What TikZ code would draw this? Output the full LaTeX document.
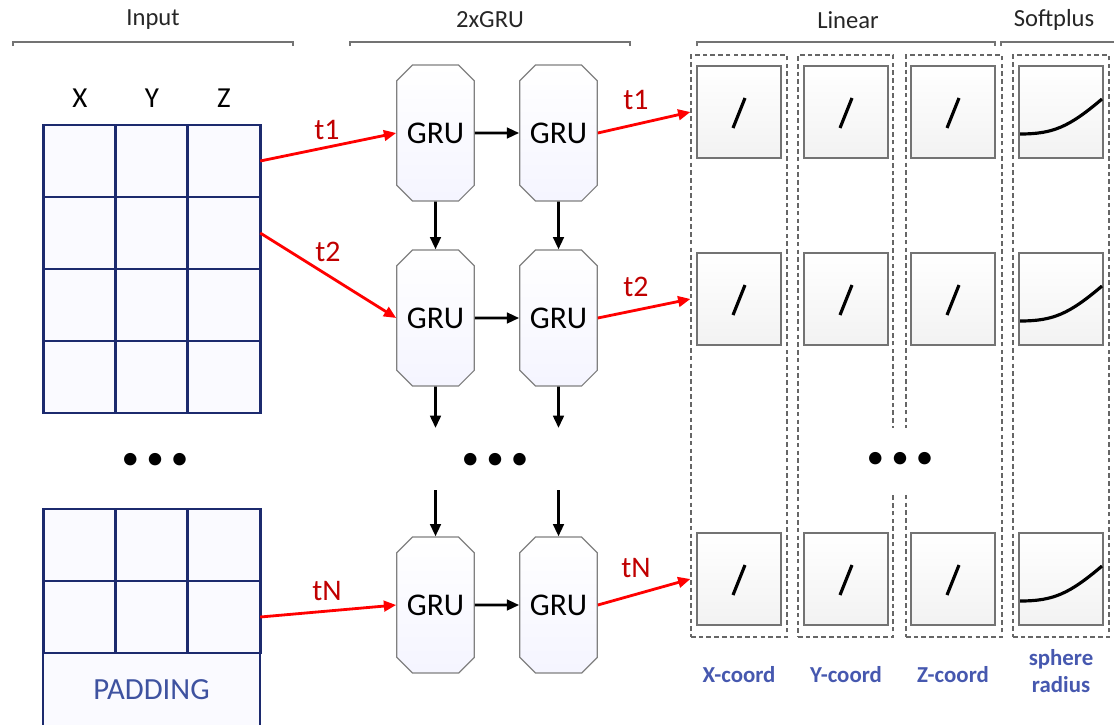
\documentclass[tikz,border=0pt]{standalone}
\usepackage{fontspec}
\setmainfont{Carlito}
\usetikzlibrary{arrows.meta,shapes.misc}
\definecolor{gridblue}{RGB}{28,42,110}
\definecolor{padblue}{RGB}{62,82,160}
\definecolor{labblue}{RGB}{70,88,175}
\definecolor{tred}{RGB}{192,0,0}
\definecolor{arrred}{RGB}{255,0,0}
\def\dotrow{\textbullet\hspace{4pt}\textbullet\hspace{4pt}\textbullet}
\tikzset{
  cell/.style={draw=gridblue,line width=1.6pt,fill=blue!2,minimum width=1.45cm,minimum height=1.44cm,inner sep=0pt,outer sep=0pt},
  gru/.style={chamfered rectangle,chamfered rectangle xsep=0.2cm,draw=black!50,line width=0.7pt,
    top color=white,bottom color=blue!4,minimum width=1.54cm,minimum height=2.72cm,inner sep=0pt,
    font=\fontsize{18}{20}\selectfont},
  column/.style={draw=black!60,dash pattern=on 2.6pt off 1.8pt,line width=0.7pt,minimum height=11.64cm,inner sep=0pt},
  unit/.style={draw=black!55,line width=0.8pt,top color=white,bottom color=black!5,minimum width=1.68cm,minimum height=1.84cm,inner sep=0pt},
  redarrow/.style={draw=arrred,line width=1.6pt,-{Triangle[length=7pt,width=6pt]}},
  blkarrow/.style={line width=1.6pt,-{Triangle[length=7pt,width=6pt]}},
  header/.style={font=\fontsize{14}{16}\selectfont,text=black!85},
  tlabel/.style={text=tred,font=\fontsize{17}{19}\selectfont},
  outlabel/.style={text=labblue,font=\bfseries\fontsize{13}{15}\selectfont,align=center},
  dotsnode/.style={font=\fontsize{20}{22}\selectfont,inner sep=0pt}
}

\begin{document}
\begin{tikzpicture}[x=0.02cm,y=-0.02cm]
    \useasboundingbox (0,0) rectangle (1114,724);

    % headers
    \node[header] (hin) at (153,20) {Input};
    \node[header] (hgru) at (490,20) {2xGRU};
    \node[header] (hlin) at (848,20) {Linear};
    \node[header] (hsp) at (1054,20) {Softplus};
    \draw[black!55,line width=0.6pt] (13,46) -- (13,42) -- (293,42) -- (293,46);
    \draw[black!55,line width=0.6pt] (350,46) -- (350,42) -- (630,42) -- (630,46);
    \draw[black!55,line width=0.6pt] (697,46) -- (697,42) -- (995,42) -- (995,46);
    \draw[black!55,line width=0.6pt] (1001,46) -- (1001,42) -- (1114,42);

    % input grid
    \node[font=\fontsize{16.5}{18}\selectfont] (lx) at (80,98) {X};
    \node[font=\fontsize{16.5}{18}\selectfont] (ly) at (152,98) {Y};
    \node[font=\fontsize{16.5}{18}\selectfont] (lz) at (224,98) {Z};
    \foreach \r/\y in {1/161,2/233,3/305,4/377,5/545,6/617}
      \foreach \c/\x in {1/79.5,2/152,3/224}
        \node[cell] (c\r\c) at (\x,\y) {};
    \node[cell,minimum width=4.34cm,minimum height=1.46cm,text=padblue,font=\fontsize{17.5}{19}\selectfont]
      (pad) at (151.5,689.5) {PADDING};
    \node[dotsnode] (idots) at (155,461) {\dotrow};

    % GRU layers
    \node[gru] (g11) at (435.5,133) {GRU};
    \node[gru] (g12) at (558.5,133) {GRU};
    \node[gru] (g21) at (435.5,318) {GRU};
    \node[gru] (g22) at (558.5,318) {GRU};
    \node[gru] (g31) at (435.5,605) {GRU};
    \node[gru] (g32) at (558.5,605) {GRU};
    \node[dotsnode] (gdots) at (495,461) {\dotrow};
    \coordinate (e1) at (435.5,428);
    \coordinate (e2) at (558.5,428);
    \coordinate (s1) at (435.5,490);
    \coordinate (s2) at (558.5,490);

    \draw[blkarrow] (g11) -- (g12);
    \draw[blkarrow] (g21) -- (g22);
    \draw[blkarrow] (g31) -- (g32);
    \draw[blkarrow] (g11) -- (g21);
    \draw[blkarrow] (g12) -- (g22);
    \draw[blkarrow] (g21) -- (e1);
    \draw[blkarrow] (g22) -- (e2);
    \draw[blkarrow] (s1) -- (g31);
    \draw[blkarrow] (s2) -- (g32);

    % linear / softplus columns
    \node[column,minimum width=1.92cm] (lin1) at (739,346) {};
    \node[column,minimum width=1.90cm] (lin2) at (845.5,346) {};
    \node[column,minimum width=1.92cm] (lin3) at (954,346) {};
    \node[column,minimum width=1.92cm] (lin4) at (1061,346) {};
    \node[dotsnode,fill=white,minimum width=1.36cm,minimum height=1.3cm] (ldots) at (900,460) {\dotrow};

    \foreach \r/\y in {1/112,2/299,3/579}{
      \foreach \c/\x in {1/739,2/846,3/953}{
        \node[unit] (o\r\c) at (\x,\y) {};
        \draw[line width=1.8pt] ([shift={(-6,16)}]o\r\c.center) -- ([shift={(6,-14)}]o\r\c.center);
      }
      \node[unit] (o\r4) at (1061,\y) {};
      \draw[line width=1.8pt] ([shift={(-41,22)}]o\r4.center)
        .. controls ([shift={(-8,22)}]o\r4.center) and ([shift={(8,15)}]o\r4.center)
        .. ([shift={(41,-13)}]o\r4.center);
    }

    % time steps
    \draw[redarrow] (c13.east) -- (g11.west);
    \draw[redarrow] (c23.east) -- (g21.west);
    \draw[redarrow] (c63.east) -- (g31.west);
    \node[tlabel] (ti1) at (327,130) {t1};
    \node[tlabel] (ti2) at (328,252) {t2};
    \node[tlabel] (tin) at (327,591) {tN};
    \draw[redarrow] (g12.east) -- (lin1.west |- o11);
    \draw[redarrow] (g22.east) -- (lin1.west |- o21);
    \draw[redarrow] (g32.east) -- (lin1.west |- o31);
    \node[tlabel] (to1) at (636,100) {t1};
    \node[tlabel] (to2) at (636,287) {t2};
    \node[tlabel] (ton) at (636,568) {tN};

    % outputs
    \node[outlabel] (ox) at (739,675) {X-coord};
    \node[outlabel] (oy) at (846,675) {Y-coord};
    \node[outlabel] (oz) at (953,675) {Z-coord};
    \node[outlabel] (or) at (1061,671) {sphere\\radius};
\end{tikzpicture}
\end{document}
